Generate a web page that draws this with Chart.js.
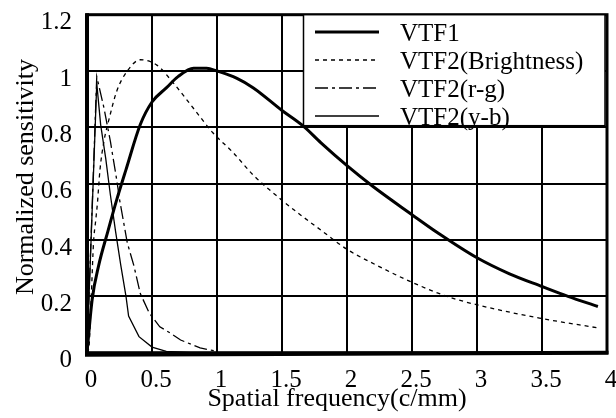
<!DOCTYPE html>
<html><head><meta charset="utf-8">
<script src="https://cdn.jsdelivr.net/npm/chart.js@4.4.1/dist/chart.umd.min.js"></script>
<style>html,body{margin:0;padding:0;background:#fff}#wrap{width:616px;height:418px;position:relative}</style>
</head><body><div id="wrap"><canvas id="c" width="616" height="418"></canvas></div>
<script>
// ---- data ----
const xTickLabels = ['0','0.5','1','1.5','2','2.5','3','3.5','4'];
const yTickLabels = ['0','0.2','0.4','0.6','0.8','1','1.2'];
const seriesNames = ['VTF1','VTF2(Brightness)','VTF2(r-g)','VTF2(y-b)'];
const xTitle = 'Spatial frequency(c/mm)';
const yTitle = 'Normalized sensitivity';

const vtf1X = [0, 0.04, 0.09, 0.16, 0.23, 0.3, 0.41, 0.5, 0.61, 0.7, 0.82, 0.92, 1.0, 1.15, 1.28, 1.5, 1.66, 1.8, 2.0, 2.2, 2.5, 2.7, 3.0, 3.25, 3.5, 3.7, 3.93];
const vtf1Y = [0, 0.19, 0.31, 0.43, 0.545, 0.65, 0.81, 0.89, 0.94, 0.98, 1.01, 1.01, 1.0, 0.975, 0.94, 0.86, 0.806, 0.745, 0.664, 0.59, 0.49, 0.425, 0.337, 0.28, 0.235, 0.2, 0.164];

const brightX = [0, 0.015, 0.033, 0.05, 0.067, 0.08, 0.1, 0.13, 0.17, 0.23, 0.31, 0.41, 0.54, 0.66, 0.82, 0.97, 1.125, 1.28, 1.49, 1.64, 1.8, 2.0, 2.23, 2.5, 2.77, 3.0, 3.48, 3.93];
const brightY = [0, 0.02, 0.2, 0.39, 0.47, 0.53, 0.65, 0.75, 0.83, 0.93, 1.0, 1.04, 1.02, 0.96, 0.867, 0.78, 0.71, 0.63, 0.545, 0.49, 0.435, 0.367, 0.31, 0.25, 0.2, 0.17, 0.123, 0.088];

const rgX = [0, 0.075, 0.13, 0.18, 0.23, 0.25, 0.31, 0.36, 0.41, 0.48, 0.56, 0.64, 0.72, 0.87, 1.0];
const rgY = [0, 0.98, 0.87, 0.75, 0.61, 0.545, 0.39, 0.31, 0.21, 0.14, 0.092, 0.07, 0.045, 0.017, 0.005];

const ybX = [0, 0.075, 0.105, 0.144, 0.18, 0.22, 0.26, 0.3, 0.32, 0.4, 0.5, 0.61, 0.8, 1.3];
const ybY = [0, 0.956, 0.81, 0.69, 0.56, 0.43, 0.31, 0.2, 0.13, 0.057, 0.02, 0.005, 0, 0];

// ---- build ----
const pts = (xs, ys) => xs.map((x, i) => ({x: x, y: ys[i]}));
const FONT = "'Liberation Serif', 'Times New Roman', serif";

const frameAndLegend = {
  id: 'frameAndLegend',
  afterDraw(chart) {
    const ctx = chart.ctx, a = chart.chartArea;
    ctx.save();
    // frame
    ctx.strokeStyle = '#000';
    ctx.lineWidth = 3;
    ctx.strokeRect(a.left, a.top, a.right - a.left, a.bottom - a.top);
    ctx.lineWidth = 4;
    ctx.beginPath();
    ctx.moveTo(a.left, a.top - 1.5); ctx.lineTo(a.left, a.bottom + 2);
    ctx.lineTo(a.right + 1.5, a.bottom);
    ctx.stroke();
    // legend
    const bx = 303.5, by = a.top, bw = 301.5, bh = 111;
    ctx.fillStyle = '#fff';
    ctx.fillRect(bx, by, bw, bh);
    ctx.lineWidth = 1.5;
    ctx.strokeRect(bx, by, bw, bh);
    ctx.font = '25px ' + FONT;
    ctx.textBaseline = 'alphabetic';
    ctx.textAlign = 'left';
    chart.data.datasets.forEach((ds, i) => {
      const ly = 32 + 28 * i;
      ctx.beginPath();
      ctx.setLineDash(ds.borderDash || []);
      ctx.lineWidth = ds.borderWidth;
      ctx.strokeStyle = '#000';
      ctx.moveTo(315, ly); ctx.lineTo(379, ly);
      ctx.stroke();
      ctx.setLineDash([]);
      ctx.fillStyle = '#000';
      ctx.fillText(ds.label, 400, ly + 9);
    });
    // axis titles
    ctx.font = '26px ' + FONT;
    ctx.textAlign = 'center';
    ctx.fillText(xTitle, 337, 406);
    ctx.translate(33, 177);
    ctx.rotate(-Math.PI / 2);
    ctx.fillText(yTitle, 0, 0);
    ctx.restore();
  }
};

new Chart(document.getElementById('c'), {
  type: 'line',
  data: {
    datasets: [
      {label: seriesNames[0], data: pts(vtf1X, vtf1Y), borderColor: '#000', borderWidth: 3, pointRadius: 0, cubicInterpolationMode: 'monotone', fill: false},
      {label: seriesNames[1], data: pts(brightX, brightY), borderColor: '#000', borderWidth: 1.3, borderDash: [4, 4], pointRadius: 0, cubicInterpolationMode: 'monotone', fill: false},
      {label: seriesNames[2], data: pts(rgX, rgY), borderColor: '#000', borderWidth: 1.3, borderDash: [13, 4, 3, 4], pointRadius: 0, tension: 0, fill: false},
      {label: seriesNames[3], data: pts(ybX, ybY), borderColor: '#000', borderWidth: 1.3, pointRadius: 0, tension: 0, fill: false}
    ]
  },
  options: {
    responsive: false,
    animation: false,
    devicePixelRatio: 1,
    layout: {padding: 0},
    plugins: {legend: {display: false}, tooltip: {enabled: false}},
    scales: {
      x: {
        type: 'linear', min: 0, max: 4,
        afterFit(s) { s.height = 65.3; s.paddingLeft = 0; s.paddingRight = 9; },
        grid: {color: '#000', lineWidth: 2, drawTicks: false},
        border: {display: false},
        ticks: {stepSize: 0.5, color: '#000', font: {family: FONT, size: 25}, padding: 13, labelOffset: 4, maxRotation: 0, autoSkip: false,
          callback: (v, i) => xTickLabels[i]}
      },
      y: {
        type: 'linear', min: 0, max: 1.2,
        afterFit(s) { s.width = 87; s.paddingTop = 14.7; s.paddingBottom = 0; },
        grid: {color: '#000', lineWidth: 2, drawTicks: false},
        border: {display: false},
        ticks: {stepSize: 0.2, color: '#000', font: {family: FONT, size: 25}, padding: 15, labelOffset: 8, autoSkip: false,
          callback: (v, i) => yTickLabels[i]}
      }
    }
  },
  plugins: [frameAndLegend]
});
</script>
</body></html>
